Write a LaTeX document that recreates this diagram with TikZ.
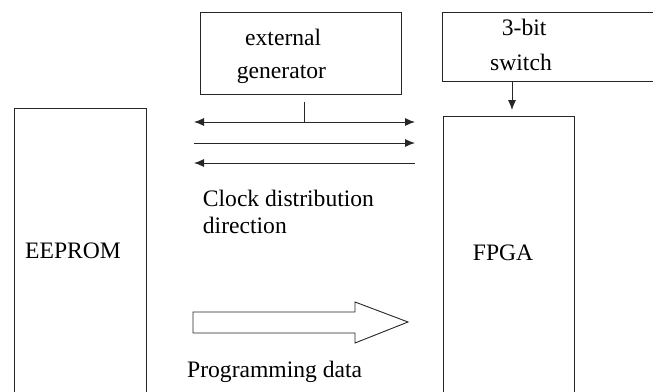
\documentclass[tikz,border=0pt]{standalone}
\usepackage{fontspec}
\setmainfont{Liberation Serif}
\usetikzlibrary{arrows.meta}
\begin{document}
\begin{tikzpicture}[x=1pt,y=-1pt,
  boxline/.style={draw=black!85,line width=0.9pt},
  lbl/.style={anchor=base west,inner sep=0pt,font=\fontsize{23.6}{27}\selectfont},
  tip/.tip={Latex[length=10pt,width=8pt]},
  conn/.style={draw=black!85,line width=0.9pt,-tip}]
\useasboundingbox (0,0) rectangle (653,391);
\clip (0,0) rectangle (653,391);
% boxes
\draw[boxline] (14,400) |- (146,108) -- (146,400);
\coordinate (eeprom) at (80,250);
\draw[boxline] (200.7,12) rectangle (401.7,94);
\coordinate (gen) at (301,94);
\draw[boxline] (660,12) -| (442.7,81) -- (660,81);
\coordinate (sw) at (512,81);
\draw[boxline] (443,400) |- (574,116) -- (574,400);
\coordinate (fpga) at (512,116);
% labels
\node[lbl] (t1) at (245,45) {external};
\node[lbl] (t2) at (236.7,78) {generator};
\node[lbl] (t3) at (501.7,35) {3-bit};
\node[lbl] (t4) at (490,70) {switch};
\node[lbl] (t5) at (25,258) {EEPROM};
\node[lbl] (t6) at (472.7,260.7) {FPGA};
\node[lbl] (t7) at (202.7,206) {Clock distribution};
\node[lbl] (t8) at (202.7,233) {direction};
\node[lbl] (t9) at (187,377) {Programming data};
% clock lines
\coordinate (a1l) at (194,122);
\coordinate (a1r) at (415,122);
\coordinate (a1m) at (304,122);
\coordinate (a1t) at (304,102);
\coordinate (a2l) at (194,143);
\coordinate (a2r) at (415,143);
\coordinate (a3l) at (194,163);
\coordinate (a3r) at (415,163);
\draw[conn,tip-tip] (a1l) -- (a1r);
\draw[draw=black!85,line width=0.9pt] (a1t) -- (a1m);
\draw[conn] (a2l) -- (a2r);
\draw[conn] (a3r) -- (a3l);
% switch to fpga
\coordinate (swe) at (512,110);
\draw[conn] (sw) -- (swe);
% big arrow
\draw[boxline,line join=miter] (193,312) -- (355,312) -- (355,302) -- (408,322) -- (355,343) -- (355,333) -- (193,333) -- cycle;
\end{tikzpicture}
\end{document}
